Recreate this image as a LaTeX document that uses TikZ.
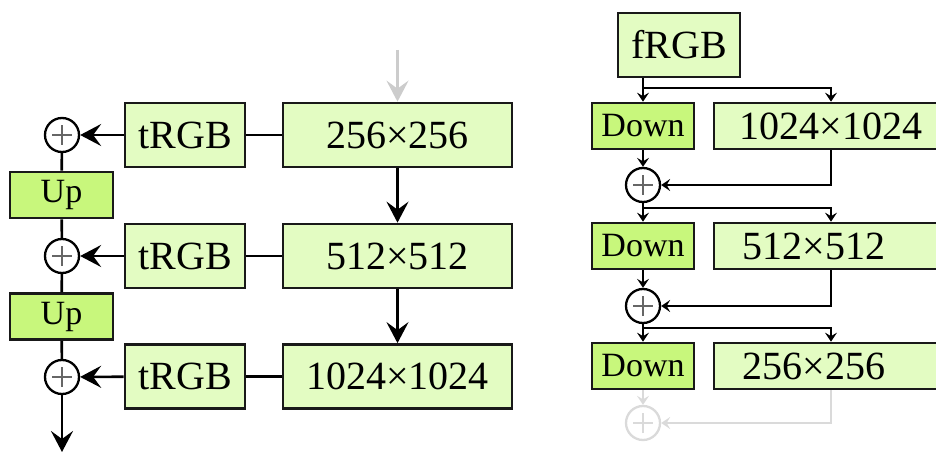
\documentclass[tikz,border=0pt]{standalone}
\usepackage{fontspec}
\setmainfont{Liberation Serif}
\usetikzlibrary{arrows.meta}
\definecolor{lightbox}{HTML}{E3FCC2}
\definecolor{darkbox}{HTML}{C8F77C}
\definecolor{faint}{HTML}{CCCCCC}
\definecolor{fainter}{HTML}{DADADA}
\tikzset{
  box/.style={draw=black!90, line width=2.7pt, fill=lightbox, inner sep=0pt, font=\fontsize{40}{40}\selectfont},
  opbox/.style={draw=black!90, line width=2.7pt, fill=darkbox, inner sep=0pt, font=\fontsize{34}{34}\selectfont},
  oplus/.style={circle, draw=black, line width=2.3pt, minimum size=34pt, inner sep=0pt,
    path picture={\draw[line width=1.6pt, #1]
      ([xshift=-10pt]path picture bounding box.center) -- ([xshift=10pt]path picture bounding box.center)
      ([yshift=-10pt]path picture bounding box.center) -- ([yshift=10pt]path picture bounding box.center);}},
  oplus/.default={black!60},
  bigarr/.style={line width=2.6pt, -{Stealth[length=21pt, width=22pt, inset=8pt]}},
  smallarr/.style={line width=2.3pt, -{Stealth[length=9pt, width=12pt, inset=3.5pt]}},
  plainline/.style={line width=2.6pt},
}
\begin{document}
\begin{tikzpicture}[x=1pt, y=-1pt]
\useasboundingbox (0,0) rectangle (936,454);
\clip (0,0) rectangle (936,454);
% ---------------- left ----------------
\node[box, minimum width=229pt, minimum height=64pt] (r1) at (397.5,135) {256×256};
\node[box, minimum width=229pt, minimum height=64pt] (r2) at (397.5,256) {512×512};
\node[box, minimum width=229pt, minimum height=64pt] (r3) at (397.5,376.5) {1024×1024};
\node[box, minimum width=120pt, minimum height=64pt] (t1) at (185,135) {tRGB};
\node[box, minimum width=120pt, minimum height=64pt] (t2) at (185,256) {tRGB};
\node[box, minimum width=120pt, minimum height=64pt] (t3) at (185,376.5) {tRGB};
\node[oplus] (c1) at (62,135) {};
\node[oplus] (c2) at (62,256) {};
\node[oplus] (c3) at (62,377) {};
\node[opbox, minimum width=103pt, minimum height=46pt] (u1) at (61.5,195) {Up};
\node[opbox, minimum width=103pt, minimum height=46pt] (u2) at (61.5,316.5) {Up};
\coordinate (topin) at (397.5,50);
\coordinate (out) at (62,452);

\draw[bigarr, draw=faint] (topin) -- (r1.north);
\draw[bigarr] (r1) -- (r2);
\draw[bigarr] (r2) -- (r3);
\draw[plainline] (t1) -- (r1);
\draw[plainline] (t2) -- (r2);
\draw[plainline] (t3) -- (r3);
\draw[bigarr] (t1) -- (c1);
\draw[bigarr] (t2) -- (c2);
\draw[bigarr] (t3) -- (c3);
\draw[plainline] (c1) -- (u1);
\draw[plainline] (u1) -- (c2);
\draw[plainline] (c2) -- (u2);
\draw[plainline] (u2) -- (c3);
\draw[bigarr] (c3) -- (out);

% ---------------- right ----------------
\node[box, minimum width=122pt, minimum height=64pt] (f) at (679,45) {fRGB};
\node[opbox, minimum width=102pt, minimum height=46pt] (d1) at (643,126) {Down};
\node[opbox, minimum width=102pt, minimum height=46pt] (d2) at (643,246) {Down};
\node[opbox, minimum width=102pt, minimum height=46pt] (d3) at (643,366) {Down};
\node[box, minimum width=236pt, minimum height=46pt] (s1) at (832,126) {};
\node[box, minimum width=236pt, minimum height=46pt] (s2) at (832,246) {};
\node[box, minimum width=236pt, minimum height=46pt] (s3) at (832,366) {};
\node[font=\fontsize{40}{40}\selectfont, inner sep=0pt] (l1) at (831,126) {1024×1024};
\node[font=\fontsize{40}{40}\selectfont, inner sep=0pt] (l2) at (814,246) {512×512};
\node[font=\fontsize{40}{40}\selectfont, inner sep=0pt] (l3) at (814,366) {256×256};
\node[oplus] (e1) at (643,185) {};
\node[oplus] (e2) at (643,306) {};
\node[oplus={fainter}, draw=fainter] (e3) at (643,423) {};

\coordinate (b0) at (643,88);
\coordinate (b0r) at (831,88);
\coordinate (b1) at (643,208);
\coordinate (b1r) at (831,208);
\coordinate (b2) at (643,328);
\coordinate (b2r) at (831,328);
\coordinate (k1) at (831,185);
\coordinate (k2) at (831,306);
\coordinate (k3) at (831,423);

\draw[line width=2.3pt] (d1.north |- f.south) -- (b0);
\draw[smallarr] (b0) -- (d1.north);
\draw[smallarr] (b0) -- (b0r) -- (b0r |- s1.north);
\draw[smallarr] (d1) -- (e1);
\draw[smallarr] (b0r |- s1.south) -- (k1) -- (e1);

\draw[line width=2.3pt] (e1) -- (b1);
\draw[smallarr] (b1) -- (d2.north);
\draw[smallarr] (b1) -- (b1r) -- (b1r |- s2.north);
\draw[smallarr] (d2) -- (e2);
\draw[smallarr] (b1r |- s2.south) -- (k2) -- (e2);

\draw[line width=2.3pt] (e2) -- (b2);
\draw[smallarr] (b2) -- (d3.north);
\draw[smallarr] (b2) -- (b2r) -- (b2r |- s3.north);
\draw[smallarr, draw=fainter] (d3) -- (e3);
\draw[smallarr, draw=fainter] (b2r |- s3.south) -- (k3) -- (e3);
\end{tikzpicture}
\end{document}
